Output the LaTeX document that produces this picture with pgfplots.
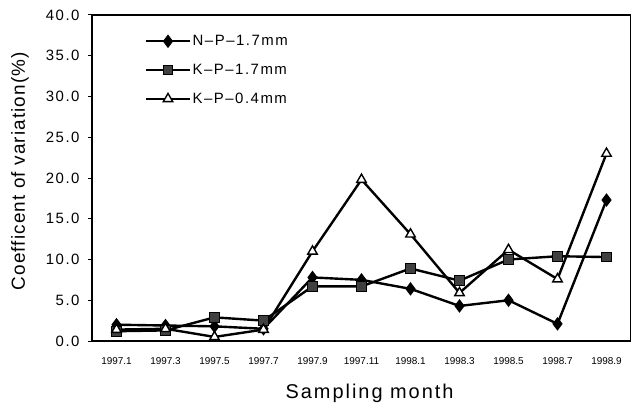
\documentclass[border=0pt]{standalone}
\usepackage{pgfplots}
\pgfplotsset{compat=1.18}
\usepackage{fontspec}
\setmainfont{Liberation Sans}
\newfontfamily\wfont[LetterSpace=6]{Liberation Sans}
\newfontfamily\xfont[LetterSpace=10]{Liberation Sans}
\newfontfamily\tfont[LetterSpace=10]{Liberation Sans}
\begin{document}
\begin{tikzpicture}[x=1bp,y=1bp]
\begin{axis}[
  at={(0,0)}, anchor=south west,
  scale only axis, width=539bp, height=326bp,
  xmin=-0.5, xmax=10.5, ymin=0, ymax=40,
  xtick={0,...,10},
  xticklabels={1997.1,1997.3,1997.5,1997.7,1997.9,1997.11,1998.1,1998.3,1998.5,1998.7,1998.9},
  ytick={0,5,...,40},
  ytick pos=left,
  /pgf/number format/assume math mode=true,
  y tick label style={/pgf/number format/fixed,/pgf/number format/fixed zerofill,/pgf/number format/precision=1},
  yticklabel style={font=\tfont\fontsize{15}{17}\selectfont, xshift=-5bp},
  xticklabel style={font=\fontsize{10}{12}\selectfont, anchor=center, yshift=-16.5bp},
  x tick style={draw=none},
  y tick style={black, line width=1pt},
  tick align=outside, major tick length=4bp,
  axis line style={black, line width=1.6pt},
  ylabel={Coefficent of variation(\%)},
  xlabel={Sampling month},
  ylabel style={font=\wfont\fontsize{19}{21}\selectfont, at={(axis description cs:-0.1336,0.521)}, anchor=center},
  xlabel style={font=\xfont\fontsize{20}{22}\selectfont, at={(axis description cs:0.515,-0.175)}, anchor=base},
  legend style={draw=none, fill=none, at={(0.098,0.942)}, anchor=north west,
    font=\tfont\fontsize{15}{17}\selectfont, row sep=14bp, inner sep=0pt, outer sep=0pt,
    nodes={inner sep=1.5bp}},
  legend cell align=left,
  legend image code/.code={\draw[mark repeat=2,mark phase=2] plot coordinates {(0bp,0bp)(22bp,0bp)(44bp,0bp)};},
  every axis plot/.append style={black, line width=2.4pt},
]
\addplot[mark=diamond*, mark size=6bp, mark options={fill=black, line width=1pt}] coordinates {
(0,2.0)(1,1.9)(2,1.8)(3,1.5)(4,7.8)(5,7.5)(6,6.4)(7,4.3)(8,5.0)(9,2.1)(10,17.3)};
\addlegendentry{N–P–1.7mm}
\addplot[mark=square*, mark size=4.8bp, mark options={fill=black!75, draw=black, line width=1pt}] coordinates {
(0,1.2)(1,1.3)(2,2.9)(3,2.5)(4,6.7)(5,6.7)(6,8.9)(7,7.4)(8,10.0)(9,10.4)(10,10.3)};
\addlegendentry{K–P–1.7mm}
\addplot[mark=triangle*, mark size=5.5bp, mark options={fill=white, draw=black, line width=1.4pt}] coordinates {
(0,1.4)(1,1.5)(2,0.5)(3,1.4)(4,11.0)(5,19.8)(6,13.1)(7,5.9)(8,11.2)(9,7.6)(10,23.0)};
\addlegendentry{K–P–0.4mm}
\end{axis}
\pgfresetboundingbox
\useasboundingbox (-92bp,-67bp) rectangle (539bp,341bp);
\end{tikzpicture}
\end{document}
